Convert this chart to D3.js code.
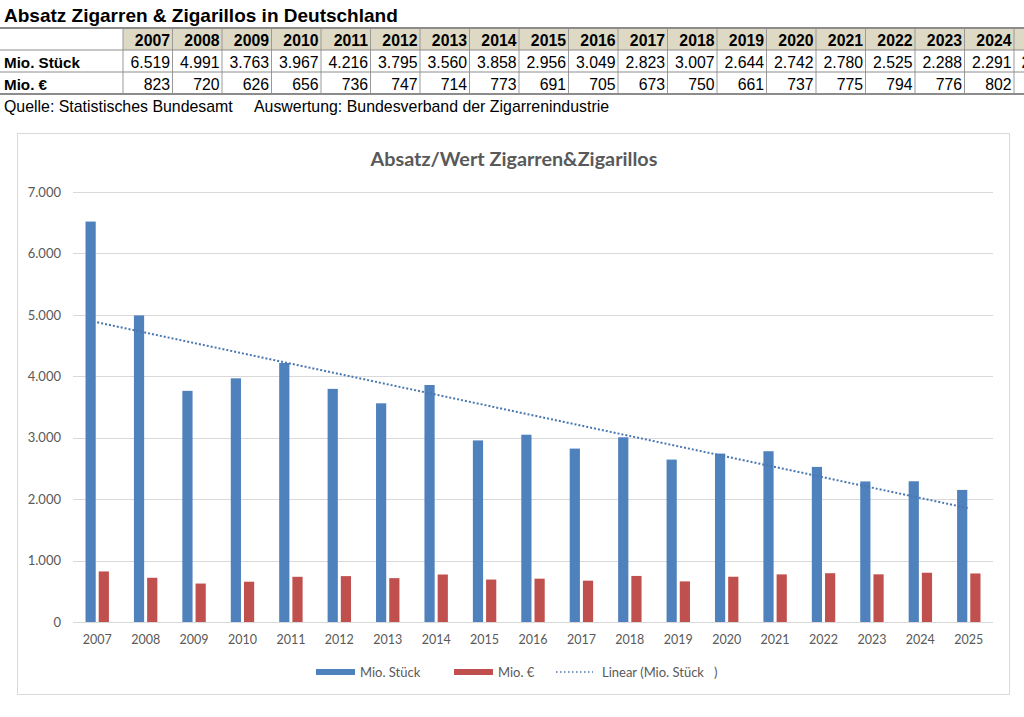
<!DOCTYPE html>
<html>
<head>
<meta charset="utf-8">
<script src="https://cdn.jsdelivr.net/npm/d3@7"></script>
<style>
  body { margin: 0; background: #fff; }
  svg { display: block; }
</style>
</head>
<body>
<div id="chart"></div>
<script>
const years = ["2007","2008","2009","2010","2011","2012","2013","2014","2015","2016","2017","2018","2019","2020","2021","2022","2023","2024","2025"];
const stueck = [6519, 4991, 3763, 3967, 4216, 3795, 3560, 3858, 2956, 3049, 2823, 3007, 2644, 2742, 2780, 2525, 2288, 2291, 2150];
const euro = [823, 720, 626, 656, 736, 747, 714, 773, 691, 705, 673, 750, 661, 737, 775, 794, 776, 802, 790];
const yTicks = [0, 1000, 2000, 3000, 4000, 5000, 6000, 7000];
const seriesNames = ["Mio. Stück", "Mio. €"];
const seriesColors = ["#4f81bd", "#c0504d"];

const de = d3.formatLocale({ decimal: ",", thousands: ".", grouping: [3], currency: ["", " €"] });
const fmt = de.format(",d");

const W = 1024, H = 717;
const svg = d3.select("#chart").append("svg")
  .attr("width", W)
  .attr("height", H);

svg.append("rect").attr("width", W).attr("height", H).attr("fill", "#fff");

// ---- heading + table ----
svg.append("text")
  .attr("x", 4).attr("y", 22)
  .attr("font-family", "Liberation Sans, Arial, sans-serif")
  .attr("font-weight", "bold")
  .attr("font-size", 19)
  .text("Absatz Zigarren & Zigarillos in Deutschland");

const labelW = 123, colW = 49.5;
const rowY = [28, 50, 72, 94];
const table = svg.append("g").attr("font-family", "Liberation Sans, Arial, sans-serif").attr("font-size", 15.8);

table.selectAll("rect.head")
  .data(years)
  .enter().append("rect")
  .attr("class", "head")
  .attr("x", (d, i) => labelW + i * colW)
  .attr("y", rowY[0])
  .attr("width", colW)
  .attr("height", rowY[1] - rowY[0])
  .attr("fill", "#ddd9c4");

// vertical separators
table.selectAll("line.vsep")
  .data(d3.range(years.length + 1))
  .enter().append("line")
  .attr("x1", i => labelW + i * colW)
  .attr("x2", i => labelW + i * colW)
  .attr("y1", rowY[0])
  .attr("y2", rowY[3])
  .attr("stroke", "#9a9a9a")
  .attr("stroke-width", 1);

// horizontal lines
table.selectAll("line.hsep")
  .data(rowY)
  .enter().append("line")
  .attr("x1", 0).attr("x2", W)
  .attr("y1", d => d).attr("y2", d => d)
  .attr("stroke", "#8c8c8c")
  .attr("stroke-width", (d, i) => (i === 0 || i === 3) ? 2.2 : 1);

const rows = [
  { label: "", vals: years },
  { label: "Mio. Stück", vals: stueck.map(fmt) },
  { label: "Mio. €", vals: euro.map(fmt) }
];
rows.forEach((r, ri) => {
  const base = rowY[ri] + 17.5;
  table.append("text")
    .attr("x", 4).attr("y", base)
    .attr("font-weight", "bold")
    .attr("font-size", 15.2)
    .text(r.label);
  table.selectAll(null)
    .data(r.vals)
    .enter().append("text")
    .attr("x", (d, i) => labelW + (i + 1) * colW - 2.5)
    .attr("y", base)
    .attr("text-anchor", "end")
    .attr("font-weight", ri === 0 ? "bold" : "normal")
    .text(d => d);
});

svg.append("text")
  .attr("x", 4).attr("y", 112)
  .attr("font-family", "Liberation Sans, Arial, sans-serif")
  .attr("font-size", 15.9)
  .attr("xml:space", "preserve")
  .text("Quelle: Statistisches Bundesamt     Auswertung: Bundesverband der Zigarrenindustrie");

// ---- chart ----
const box = { x: 17, y: 133, w: 992, h: 561 };
svg.append("rect")
  .attr("x", box.x + 0.5).attr("y", box.y + 0.5)
  .attr("width", box.w).attr("height", box.h)
  .attr("fill", "#fff")
  .attr("stroke", "#d9d9d9");

const plot = { left: 73, right: 993, top: 192, bottom: 622 };
const font = "Lato, 'Open Sans', sans-serif";
const grey = "#595959";

svg.append("text")
  .attr("x", 514)
  .attr("y", 166)
  .attr("text-anchor", "middle")
  .attr("font-family", font)
  .attr("font-weight", "bold")
  .attr("font-size", 19.8)
  .attr("fill", grey)
  .text("Absatz/Wert Zigarren&Zigarillos");

const x = d3.scaleBand()
  .domain(years)
  .range([plot.left, plot.right])
  .paddingInner(0.5165)
  .paddingOuter(0.2583);

const xSub = d3.scaleBand()
  .domain(seriesNames)
  .range([0, x.bandwidth()])
  .paddingInner(0.227);

const y = d3.scaleLinear()
  .domain([0, 7000])
  .range([plot.bottom, plot.top]);

// grid
svg.append("g")
  .selectAll("line")
  .data(yTicks)
  .enter().append("line")
  .attr("x1", plot.left).attr("x2", plot.right)
  .attr("y1", d => Math.round(y(d)) + 0.5)
  .attr("y2", d => Math.round(y(d)) + 0.5)
  .attr("stroke", "#d9d9d9")
  .attr("stroke-width", 1);

// y axis
const yAxis = svg.append("g")
  .attr("transform", `translate(${plot.left - 12},0)`)
  .call(d3.axisLeft(y).tickValues(yTicks).tickFormat(fmt).tickSize(0).tickPadding(0));
yAxis.select(".domain").remove();
yAxis.selectAll("text")
  .attr("font-family", font)
  .attr("font-size", 13)
  .attr("fill", grey);

// x axis
const xAxis = svg.append("g")
  .attr("transform", `translate(0,${plot.bottom})`)
  .call(d3.axisBottom(x).tickSize(0).tickPadding(13));
xAxis.select(".domain").remove();
xAxis.selectAll("text")
  .attr("font-family", font)
  .attr("font-size", 12.5)
  .attr("fill", grey);

// bars
const groups = svg.append("g")
  .selectAll("g")
  .data(years)
  .enter().append("g")
  .attr("transform", d => `translate(${x(d)},0)`);

groups.selectAll("rect")
  .data((d, i) => [
    { s: seriesNames[0], v: stueck[i] },
    { s: seriesNames[1], v: euro[i] }
  ])
  .enter().append("rect")
  .attr("x", d => xSub(d.s))
  .attr("width", xSub.bandwidth())
  .attr("y", d => y(d.v))
  .attr("height", d => y(0) - y(d.v))
  .attr("fill", (d, i) => seriesColors[i]);

// linear trend of Mio. Stück (least squares over category index)
const idx = years.map((d, i) => i + 1);
const mx = d3.mean(idx), my = d3.mean(stueck);
const slope = d3.sum(idx, (v, i) => (v - mx) * (stueck[i] - my)) / d3.sum(idx, v => (v - mx) * (v - mx));
const icpt = my - slope * mx;
const center = d => x(d) + x.bandwidth() / 2;
const trend = [0, years.length - 1].map(i => [center(years[i]), y(icpt + slope * (i + 1))]);

svg.append("path")
  .attr("d", d3.line()(trend))
  .attr("fill", "none")
  .attr("stroke", "#4a77b0")
  .attr("stroke-width", 2)
  .attr("stroke-dasharray", "2,2");

// legend
const legY = 672;
const leg = svg.append("g").attr("font-family", font).attr("font-size", 13).attr("fill", grey);
const legItems = [
  { type: "bar", color: seriesColors[0], label: seriesNames[0], x: 316 },
  { type: "bar", color: seriesColors[1], label: seriesNames[1], x: 454 },
  { type: "line", color: "#4a77b0", label: "Linear (Mio. Stück   )", x: 556 }
];
legItems.forEach(it => {
  if (it.type === "bar") {
    leg.append("rect")
      .attr("x", it.x).attr("y", legY - 3)
      .attr("width", 39).attr("height", 6)
      .attr("fill", it.color);
    leg.append("text")
      .attr("x", it.x + 44).attr("y", legY + 4.5)
      .text(it.label);
  } else {
    leg.append("line")
      .attr("x1", it.x).attr("x2", it.x + 37)
      .attr("y1", legY).attr("y2", legY)
      .attr("stroke", it.color)
      .attr("stroke-width", 1.5)
      .attr("stroke-dasharray", "1.5,2.5");
    leg.append("text")
      .attr("x", it.x + 46).attr("y", legY + 4.5)
      .attr("xml:space", "preserve")
      .text(it.label);
  }
});
</script>
</body>
</html>
